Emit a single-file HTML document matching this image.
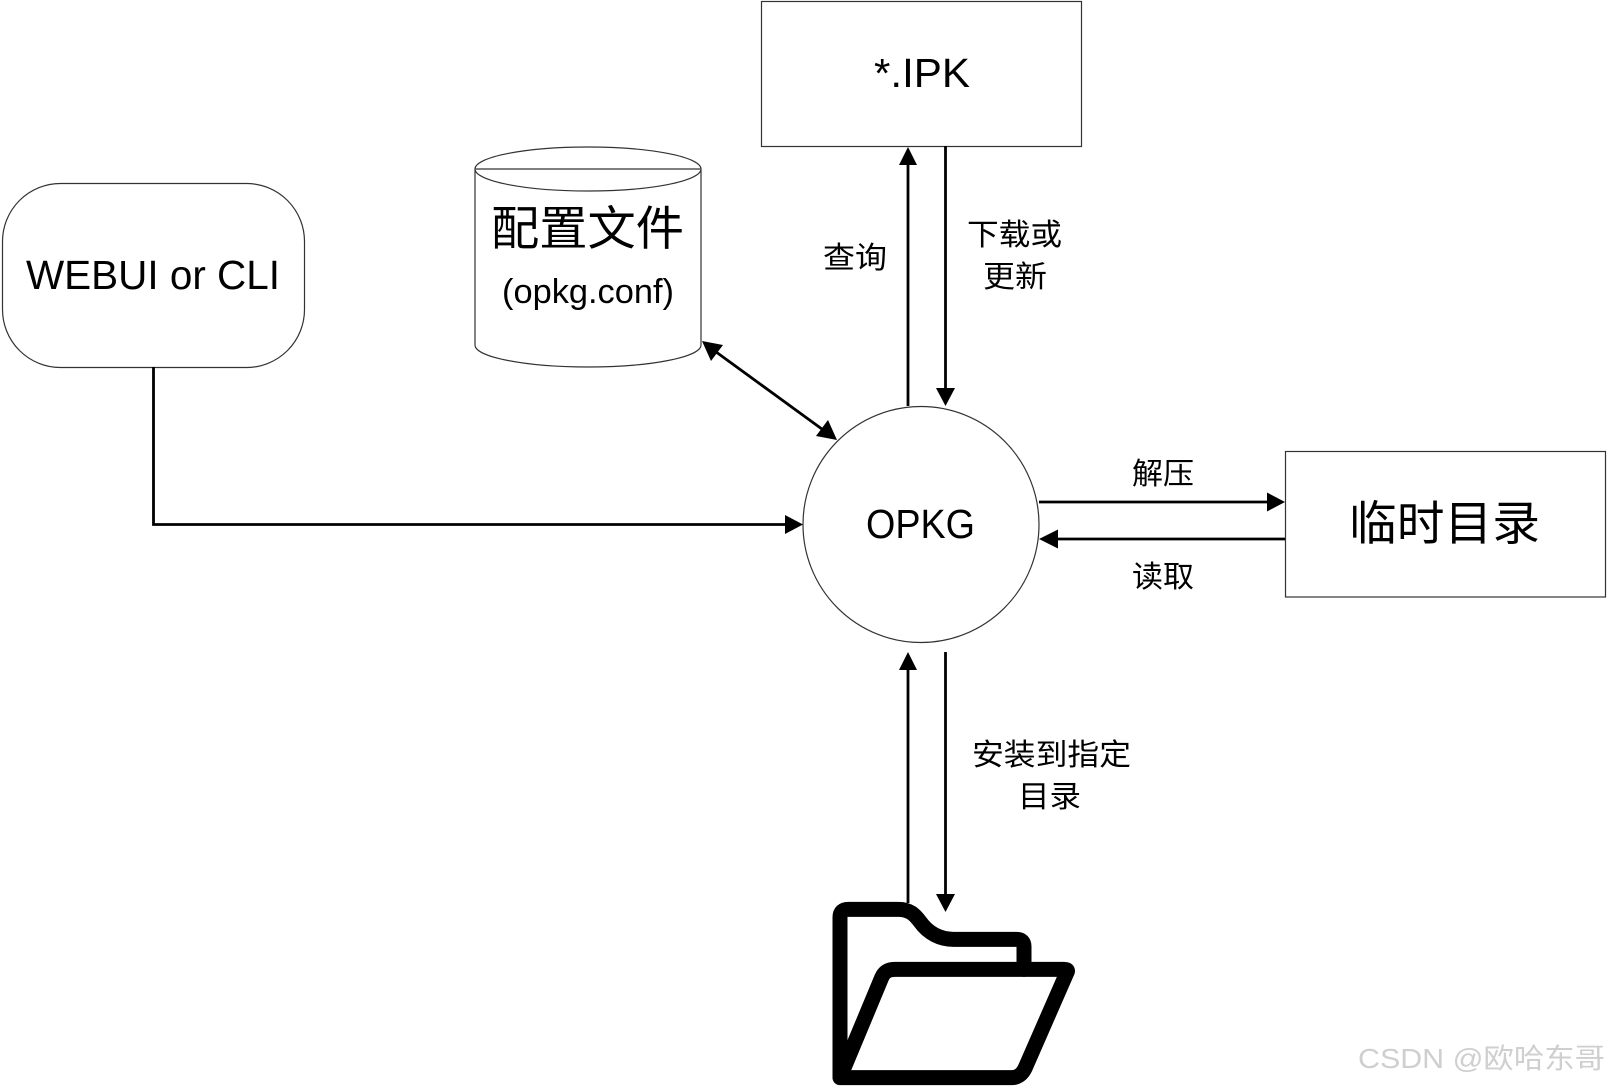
<!DOCTYPE html>
<html><head><meta charset="utf-8"><style>
html,body{margin:0;padding:0;background:#fff}
svg{display:block}
text{fill:#000}
.l{font-family:"Liberation Sans","Noto Sans CJK SC",sans-serif}
.c{font-family:"Liberation Sans","Noto Sans CJK SC",sans-serif;font-weight:400}
</style></head><body>
<svg width="1607" height="1086" viewBox="0 0 1607 1086" xmlns="http://www.w3.org/2000/svg">
<rect width="1607" height="1086" fill="#fff"/>
<g fill="#fff" stroke="#333" stroke-width="1.2">
<rect x="761.500" y="1.500" width="320" height="145"/>
<rect x="1285.500" y="451.500" width="320" height="145.500"/>
<rect x="2.500" y="183.500" width="302" height="184" rx="58" ry="58"/>
<circle cx="921" cy="524.500" r="118"/>
<path d="M475 169V345C475 357 525 367 588 367S701 357 701 345V169"/>
<ellipse cx="588" cy="169" rx="113" ry="22"/>
</g>
<line x1="475" y1="169" x2="701" y2="169" stroke="#555" stroke-width="1.6"/>
<g fill="none" stroke="#000" stroke-width="2.800">
<path d="M153.500 367V524.500H790"/>
<line x1="908" y1="406" x2="908" y2="160"/>
<line x1="945.500" y1="146" x2="945.500" y2="392"/>
<line x1="1039" y1="502" x2="1272" y2="502"/>
<line x1="1285" y1="539" x2="1054" y2="539"/>
<line x1="908" y1="903" x2="908" y2="665"/>
<line x1="945.500" y1="652" x2="945.500" y2="898"/>
<line x1="712" y1="349" x2="826" y2="432"/>
</g>
<g fill="#000">
<polygon points="803,524.500 785,515 785,534"/>
<polygon points="908,147 899,165 917,165"/>
<polygon points="945.500,406 936,388 955,388"/>
<polygon points="1285,502 1267,492.500 1267,511.500"/>
<polygon points="1039,539 1058,529.500 1058,548.500"/>
<polygon points="908,652 899,670 917,670"/>
<polygon points="945.500,912 936,894 955,894"/>
<polygon points="702,341 723,345 711,361"/>
<polygon points="837,440 816,436 828,420"/>
</g>
<g transform="translate(780 880) scale(.33333)" fill="none" stroke="#000" stroke-width="45" stroke-linejoin="round" stroke-linecap="round">
<path d="M180 590V112Q180 88 205 88H355C390 88 405 105 420 125C445 160 480 178 520 178H710Q732 178 732 200V268"/>
<path d="M180 593H695C715 593 728 580 735 565L862 275Q865 268 850 268H345C325 268 313 275 305 293Z"/>
</g>
<g class="l">
<text x="26" y="289" font-size="41" textLength="254" lengthAdjust="spacingAndGlyphs">WEBUI or CLI</text>
<text x="874" y="87" font-size="41" textLength="96" lengthAdjust="spacingAndGlyphs">*.IPK</text>
<text x="866" y="538" font-size="41" textLength="109" lengthAdjust="spacingAndGlyphs">OPKG</text>
<text x="502" y="303" font-size="34" textLength="172" lengthAdjust="spacingAndGlyphs">(opkg.conf)</text>
</g>
<g class="c">
<text x="491" y="245" font-size="47" textLength="193" lengthAdjust="spacingAndGlyphs">配置文件</text>
<text x="1349" y="540" font-size="47" textLength="191" lengthAdjust="spacingAndGlyphs">临时目录</text>
<text x="823" y="268" font-size="30" textLength="64" lengthAdjust="spacingAndGlyphs">查询</text>
<text x="967" y="245" font-size="30" textLength="95" lengthAdjust="spacingAndGlyphs">下载或</text>
<text x="983" y="287" font-size="30" textLength="64" lengthAdjust="spacingAndGlyphs">更新</text>
<text x="1132" y="484" font-size="30" textLength="62" lengthAdjust="spacingAndGlyphs">解压</text>
<text x="1132" y="587" font-size="30" textLength="62" lengthAdjust="spacingAndGlyphs">读取</text>
<text x="972" y="765" font-size="30" textLength="159" lengthAdjust="spacingAndGlyphs">安装到指定</text>
<text x="1018" y="807" font-size="30" textLength="63" lengthAdjust="spacingAndGlyphs">目录</text>
</g>
<text class="l" x="1358" y="1068" font-size="28" textLength="247" lengthAdjust="spacingAndGlyphs" style="fill:#cfcfcf">CSDN @欧哈东哥</text>
</svg>
</body></html>
